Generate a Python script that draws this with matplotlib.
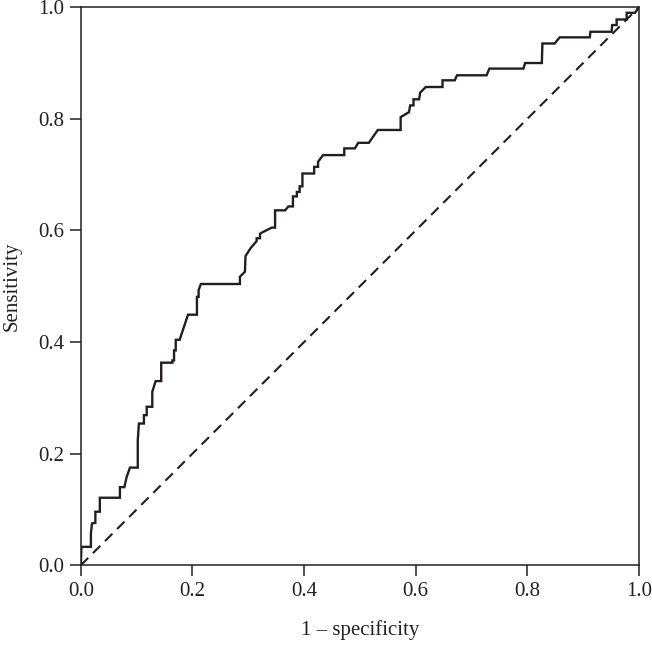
import matplotlib
matplotlib.use("Agg")
import matplotlib.pyplot as plt

fpr = [0.0, 0.001, 0.018, 0.018, 0.020, 0.026, 0.026, 0.034, 0.034, 0.070, 0.070, 0.078,
       0.082, 0.088, 0.102, 0.102, 0.104, 0.113, 0.113, 0.118, 0.118, 0.128, 0.128, 0.134,
       0.144, 0.144, 0.164, 0.164, 0.167, 0.167, 0.170, 0.170, 0.177, 0.183, 0.192, 0.208,
       0.208, 0.211, 0.211, 0.215, 0.285, 0.285, 0.294, 0.295, 0.304, 0.315, 0.315, 0.321,
       0.321, 0.326, 0.342, 0.348, 0.348, 0.366, 0.372, 0.380, 0.380, 0.387, 0.387, 0.392,
       0.392, 0.397, 0.397, 0.418, 0.418, 0.425, 0.425, 0.434, 0.472, 0.472, 0.491, 0.497,
       0.516, 0.532, 0.573, 0.573, 0.578, 0.588, 0.590, 0.596, 0.596, 0.606, 0.608, 0.618,
       0.648, 0.648, 0.670, 0.674, 0.727, 0.732, 0.793, 0.796, 0.826, 0.827, 0.849, 0.858,
       0.912, 0.913, 0.951, 0.952, 0.960, 0.960, 0.978, 0.978, 0.993, 1.0]
tpr = [0.0, 0.033, 0.033, 0.057, 0.075, 0.076, 0.096, 0.096, 0.121, 0.121, 0.140, 0.140,
       0.158, 0.175, 0.175, 0.224, 0.254, 0.254, 0.269, 0.269, 0.284, 0.284, 0.311, 0.330,
       0.330, 0.363, 0.363, 0.367, 0.367, 0.385, 0.385, 0.404, 0.404, 0.422, 0.449, 0.449,
       0.481, 0.481, 0.493, 0.504, 0.504, 0.517, 0.526, 0.554, 0.568, 0.581, 0.586, 0.586,
       0.594, 0.597, 0.605, 0.605, 0.636, 0.636, 0.643, 0.643, 0.661, 0.661, 0.669, 0.669,
       0.679, 0.679, 0.702, 0.702, 0.714, 0.714, 0.723, 0.735, 0.735, 0.747, 0.747, 0.757,
       0.757, 0.780, 0.780, 0.803, 0.806, 0.812, 0.824, 0.824, 0.835, 0.835, 0.847, 0.857,
       0.857, 0.869, 0.869, 0.878, 0.878, 0.890, 0.890, 0.900, 0.900, 0.935, 0.935, 0.946,
       0.946, 0.956, 0.956, 0.968, 0.968, 0.978, 0.978, 0.990, 0.990, 1.0]
ref_line = [0.0, 1.0]
xticks = [0.0, 0.2, 0.4, 0.6, 0.8, 1.0]
yticks = [0.0, 0.2, 0.4, 0.6, 0.8, 1.0]

plt.rcParams['font.family'] = ['Liberation Serif', 'DejaVu Serif']
fig = plt.figure(figsize=(6.52, 6.55), dpi=100)
ax = fig.add_axes([0.124, 0.137, 0.856, 0.852])

ax.plot(fpr, tpr, color='#231f20', lw=1.7, solid_joinstyle='miter')
ax.plot(ref_line, ref_line, color='#231f20', lw=1.5, linestyle=(0, (5, 3.2)))

ax.set_xlim(0, 1)
ax.set_ylim(0, 1)
ax.set_xticks(xticks)
ax.set_yticks(yticks)
ax.set_xticklabels([f"{t:.1f}" for t in xticks])
ax.set_yticklabels([f"{t:.1f}" for t in yticks])
ax.tick_params(direction='out', length=8, width=1.1, labelsize=15, colors='#231f20', pad=4)
for s in ax.spines.values():
    s.set_linewidth(1.1)
    s.set_color('#231f20')
ax.set_xlabel('1 – specificity', fontsize=15, color='#231f20', labelpad=14)
ax.set_ylabel('Sensitivity', fontsize=15, color='#231f20', labelpad=12)

fig.savefig('out.png', dpi=100)
